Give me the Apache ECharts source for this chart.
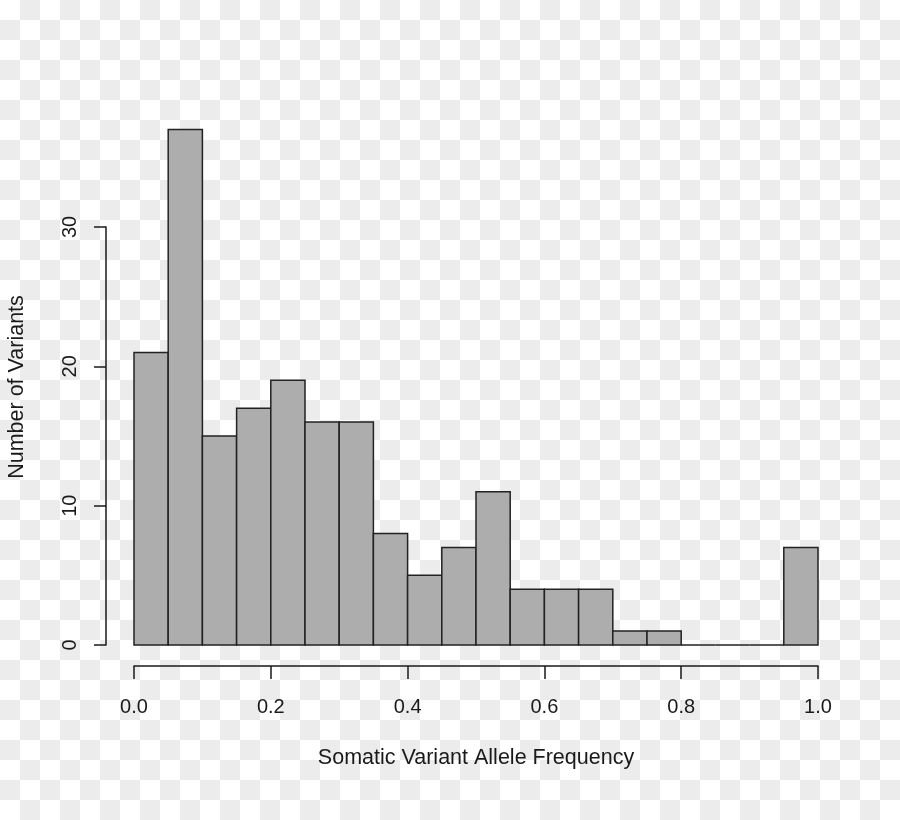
<!DOCTYPE html>
<html>
<head>
<meta charset="utf-8">
<script src="https://cdn.jsdelivr.net/npm/echarts@6/dist/echarts.min.js"></script>
<style>
  html, body { margin: 0; padding: 0; }
  body {
    width: 900px; height: 820px;
    background: repeating-conic-gradient(#ececec 0 25%, #ffffff 0 50%) 0 0 / 40px 40px;
  }
  #chart { width: 900px; height: 820px; }
</style>
</head>
<body>
<div id="chart"></div>
<script>
const binStarts = [0.00, 0.05, 0.10, 0.15, 0.20, 0.25, 0.30, 0.35, 0.40, 0.45,
                   0.50, 0.55, 0.60, 0.65, 0.70, 0.75, 0.80, 0.85, 0.90, 0.95];
const binEnds   = [0.05, 0.10, 0.15, 0.20, 0.25, 0.30, 0.35, 0.40, 0.45, 0.50,
                   0.55, 0.60, 0.65, 0.70, 0.75, 0.80, 0.85, 0.90, 0.95, 1.00];
const counts    = [21, 37, 15, 17, 19, 16, 16, 8, 5, 7,
                   11, 4, 4, 4, 1, 1, 0, 0, 0, 7];
const xTitle = 'Somatic Variant Allele Frequency';
const yTitle = 'Number of Variants';

const data = binStarts.map((s, i) => [s, binEnds[i], counts[i]]);
const font = '"Liberation Sans", Arial, Helvetica, sans-serif';
const ink = '#1a1a1a';

const chart = echarts.init(document.getElementById('chart'), null, { renderer: 'canvas' });
chart.setOption({
  backgroundColor: 'transparent',
  animation: false,
  grid: { left: 134, right: 82, top: 227, bottom: 175, containLabel: false },
  xAxis: {
    type: 'value', min: 0, max: 1, interval: 0.2,
    offset: 21,
    axisLine: { show: true, onZero: false, lineStyle: { color: ink, width: 1.5 } },
    axisTick: { show: true, length: 13, lineStyle: { color: ink, width: 1.5 } },
    axisLabel: { color: ink, fontSize: 20, fontFamily: font, margin: 31,
                 formatter: v => v.toFixed(1) },
    splitLine: { show: false }
  },
  yAxis: {
    type: 'value', min: 0, max: 30, interval: 10,
    offset: 28,
    axisLine: { show: true, onZero: false, lineStyle: { color: ink, width: 1.5 } },
    axisTick: { show: true, length: 12, lineStyle: { color: ink, width: 1.5 } },
    axisLabel: { color: ink, fontSize: 20, fontFamily: font, margin: 26, rotate: 90 },
    splitLine: { show: false }
  },
  graphic: [
    { type: 'text', x: 476, y: 747,
      style: { text: xTitle, fontSize: 21.5, fontFamily: font, fill: ink,
               align: 'center', verticalAlign: 'top' } },
    { type: 'text', x: 6, y: 387, rotation: Math.PI / 2,
      style: { text: yTitle, fontSize: 21.5, fontFamily: font, fill: ink,
               align: 'center', verticalAlign: 'top' } }
  ],
  series: [{
    type: 'custom',
    clip: false,
    data: data,
    encode: { x: [0, 1], y: 2 },
    renderItem: function (params, api) {
      const p0 = api.coord([api.value(0), 0]);
      const p1 = api.coord([api.value(1), api.value(2)]);
      return {
        type: 'rect',
        shape: { x: p0[0], y: p1[1], width: p1[0] - p0[0], height: p0[1] - p1[1] },
        style: { fill: '#adadad', stroke: '#222222', lineWidth: 1.5 }
      };
    }
  }]
});
</script>
</body>
</html>
